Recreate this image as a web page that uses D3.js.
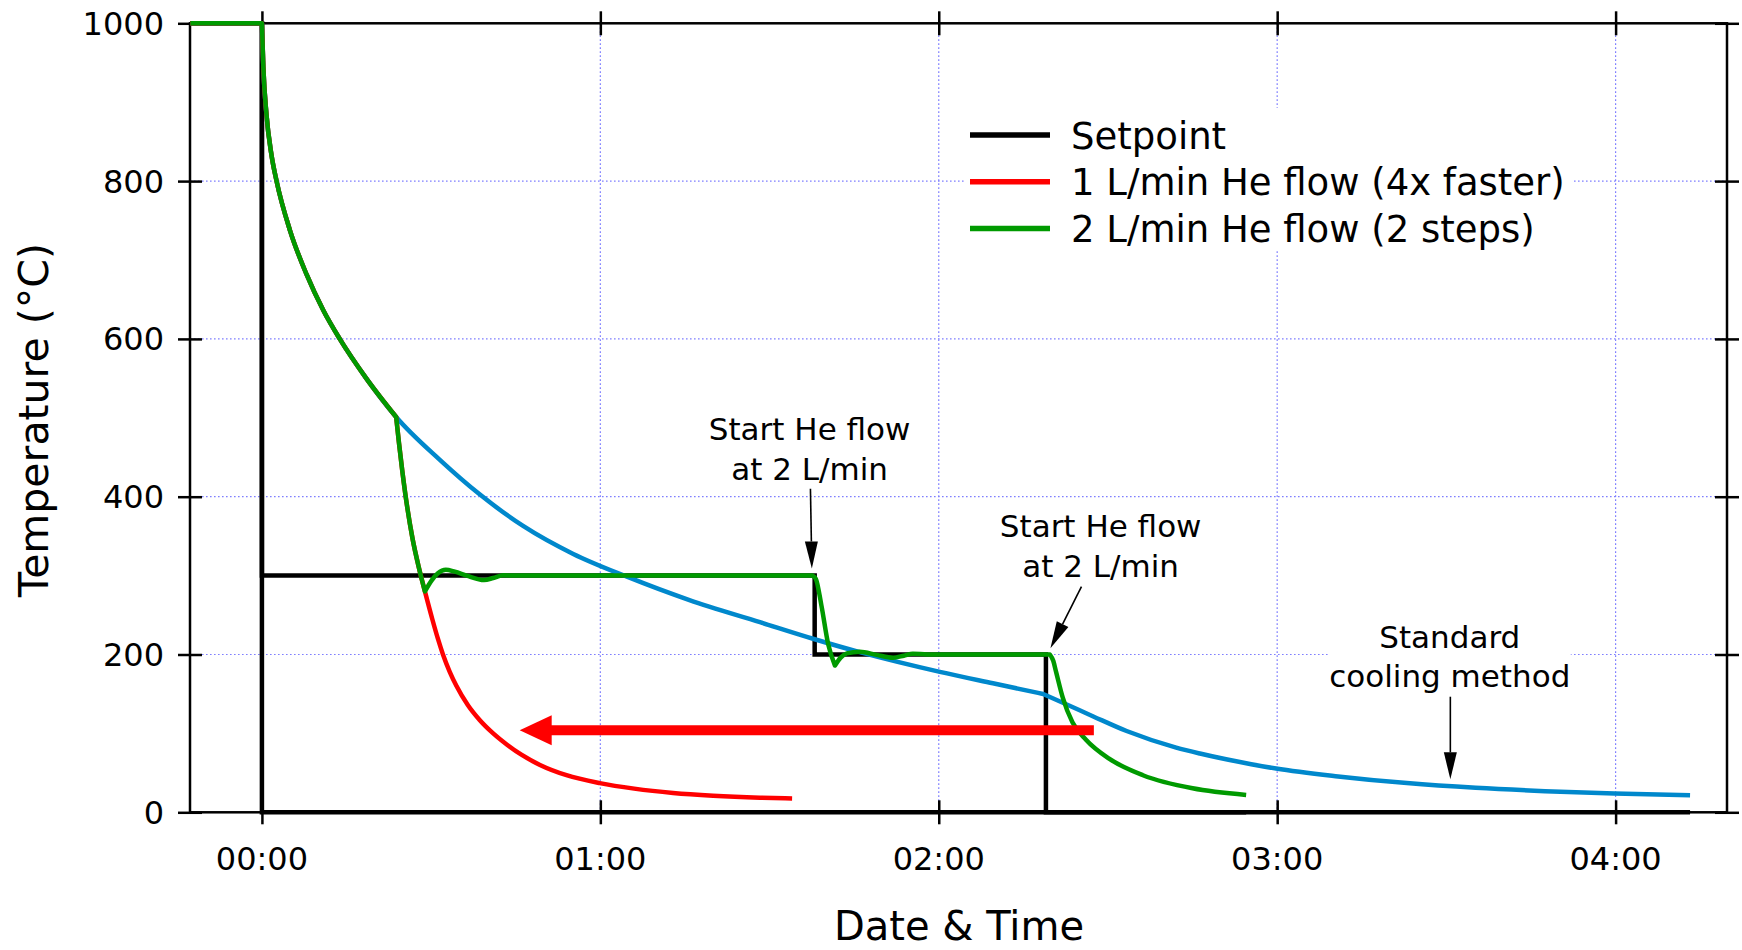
<!DOCTYPE html>
<html>
<head>
<meta charset="utf-8">
<script src="https://cdn.jsdelivr.net/npm/d3@7"></script>
<style>
  html, body { margin: 0; padding: 0; background: #fff; }
  svg { display: block; font-family: "DejaVu Sans", sans-serif; }
</style>
</head>
<body>
<svg id="chart" width="1742" height="950"></svg>
<script>
// ---------------- DATA (time in minutes from 00:00, temperature in °C) ----------------
const xTickValues = [0, 60, 120, 180, 240];
const xTickLabels = ["00:00", "01:00", "02:00", "03:00", "04:00"];
const yTickValues = [0, 200, 400, 600, 800, 1000];
const yTickLabels = ["0", "200", "400", "600", "800", "1000"];

// Standard cooling (blue)
const standardCooling = [
  [-12.7,1000],[0,1000],[0.25,945],[0.8,885],[1.7,833],[2.6,800],[5,737],[7.9,682],[10.9,636],
  [13.8,600],[18.5,550],[23.8,501],[31.5,447],[38.6,403],[46.3,363],[55.2,327.5],[64.6,299],
  [75.8,269],[88.3,241],[97.7,220],[106,203],[120.2,178],[129.6,163.5],[138.5,150],[142.6,137],
  [147.4,121.5],[153.3,103],[162.1,82],[166.3,74.5],[175.4,61],[179.8,55.5],[190.8,45.5],[203,37],
  [215.2,31],[227.5,26.8],[239.8,23.8],[253.2,21.5]
];
const standardCorners = [0, 138.5];

// 1 L/min He flow (red)
const flow1 = [
  [-12.7,1000],[0,1000],[0.25,945],[0.8,885],[1.7,833],[2.6,800],[5,737],[7.9,682],[10.9,636],
  [13.8,600],[18.5,550],[23.8,501],[24.3,468],[24.9,432],[25.8,385],[26.7,347],[27.8,311],
  [28.9,280],[30.2,245],[31.2,220],[32.1,200],[33.3,178],[34.5,160],[36.5,136],[38.6,117],
  [41,100],[43.4,86],[46,73],[49.3,60],[54,47],[59.9,37],[66,30],[72.9,24.5],[80,21],
  [88.3,18.5],[94,17.5]
];
const flow1Corners = [0, 23.8];

// 2 L/min He flow, 2 steps (green)
const flow2 = [
  [-12.7,1000],[0,1000],[0.25,945],[0.8,885],[1.7,833],[2.6,800],[5,737],[7.9,682],[10.9,636],
  [13.8,600],[18.5,550],[23.8,501],[24.3,468],[24.9,432],[25.8,385],[26.7,347],[27.8,311],
  [28.9,280],[30.1,294],[31.2,303],[32.6,307.5],[34.2,305],[36.3,300],[39.4,294.4],[41,297],
  [42.8,300.5],[45,300],[97.6,300],[98.2,296],[99.2,262],[100.4,213],[101.6,186],[102.6,196],
  [103.7,201.5],[106,203.5],[109,199.5],[111.9,196],[113.8,198.5],[115.4,201],[118,200],
  [139.7,200],[140.3,192],[140.8,178],[142,145],[143.7,114],[146.1,92],[150.2,68],[156.2,47],
  [165,30.4],[174.5,22]
];
const flow2Corners = [0, 23.8, 28.9, 97.6, 101.6, 139.7];

// Setpoints (black)
const setpointStandard = [[-12.7,1000],[0,1000],[0,0],[253.2,0]];
const setpointSteps = [[-12.7,1000],[0,1000],[0,300],[98,300],[98,200],[139,200],[139,0],[174.5,0]];

// Legend
const legendLabels = ["Setpoint", "1 L/min He flow (4x faster)", "2 L/min He flow (2 steps)"];
const legendColors = ["#000000", "#ff0000", "#009a00"];

// Annotations (data coordinates)
const annotations = [
  { lines: ["Start He flow", "at 2 L/min"], t: 97.1, T: [472, 421], from: [97.25, 410], to: [97.5, 309], bg: false },
  { lines: ["Start He flow", "at 2 L/min"], t: 148.7, T: [348.5, 298.6], from: [145.3, 286], to: [139.8, 208], bg: false },
  { lines: ["Standard", "cooling method"], t: 210.6, T: [208.6, 158.8], from: [210.7, 146.5], to: [210.7, 41.8], bg: true }
];
// Big red arrow (time saved)
const savingArrow = { from: [147.5, 104], to: [45.7, 104] };

// ---------------- CHART ----------------
const svg = d3.select("#chart");
const L = 190, R = 1727, T0 = 23.3, B = 812.3;
const x = d3.scaleLinear().domain([-12.75, 259.75]).range([L, R]);
const y = d3.scaleLinear().domain([0, 1000]).range([B, T0]);

const gridColor = "#7f7fff";
const grid = svg.append("g");
grid.selectAll("line.hg").data(yTickValues.filter(v => v > 0 && v < 1000)).join("line")
  .attr("x1", L).attr("x2", R).attr("y1", d => y(d)).attr("y2", d => y(d))
  .attr("stroke", gridColor).attr("stroke-width", 1.2).attr("stroke-dasharray", "1.6,2.4");
grid.selectAll("line.vg").data(xTickValues.filter(v => v > 0)).join("line")
  .attr("x1", d => x(d)).attr("x2", d => x(d)).attr("y1", T0).attr("y2", B)
  .attr("stroke", gridColor).attr("stroke-width", 1.2).attr("stroke-dasharray", "1.6,2.4");

function styleAxis(g) {
  g.select(".domain").remove();
  g.selectAll(".tick line").attr("stroke", "#000").attr("stroke-width", 2.5);
  g.selectAll("text").remove();
}
const tickLen = 12;
svg.append("g").attr("transform", `translate(0,${B + tickLen})`)
  .call(d3.axisBottom(x).tickValues(xTickValues).tickSize(-2 * tickLen)).call(styleAxis);
svg.append("g").attr("transform", `translate(0,${T0 + tickLen})`)
  .call(d3.axisBottom(x).tickValues(xTickValues).tickSize(-2 * tickLen)).call(styleAxis);
svg.append("g").attr("transform", `translate(${L - tickLen},0)`)
  .call(d3.axisRight(y).tickValues(yTickValues).tickSize(2 * tickLen)).call(styleAxis);
svg.append("g").attr("transform", `translate(${R - tickLen},0)`)
  .call(d3.axisRight(y).tickValues(yTickValues).tickSize(2 * tickLen)).call(styleAxis);

svg.append("rect").attr("x", L).attr("y", T0).attr("width", R - L).attr("height", B - T0)
  .attr("fill", "none").attr("stroke", "#000").attr("stroke-width", 2.5);

svg.append("g").selectAll("text").data(xTickValues).join("text")
  .attr("x", d => x(d)).attr("y", B + 58).attr("text-anchor", "middle")
  .attr("font-size", 32).text((d, i) => xTickLabels[i]);
svg.append("g").selectAll("text").data(yTickValues).join("text")
  .attr("x", 164).attr("y", d => y(d) + 11.5).attr("text-anchor", "end")
  .attr("font-size", 32).text((d, i) => yTickLabels[i]);

svg.append("text").attr("x", (L + R) / 2 + 0.5).attr("y", 940).attr("text-anchor", "middle")
  .attr("font-size", 40).text("Date & Time");
svg.append("text").attr("transform", "translate(48,420) rotate(-90)").attr("text-anchor", "middle")
  .attr("font-size", 41).text("Temperature (°C)");

// legend
const lg = svg.append("g");
lg.append("rect").attr("x", 964).attr("y", 108).attr("width", 608).attr("height", 142).attr("fill", "#fff");
legendLabels.forEach((lab, i) => {
  const cy = 135 + i * 46.7;
  lg.append("line").attr("x1", 970).attr("x2", 1050).attr("y1", cy).attr("y2", cy)
    .attr("stroke", legendColors[i]).attr("stroke-width", 5.5);
  lg.append("text").attr("x", 1071).attr("y", cy + 13.5).attr("font-size", 37).text(lab);
});

// series
const line = d3.line().x(d => x(d[0])).y(d => y(d[1]));
const smooth = d3.line().x(d => x(d[0])).y(d => y(d[1])).curve(d3.curveMonotoneX);
function segmentedPath(data, corners) {
  const segs = [];
  let cur = [];
  data.forEach(p => {
    cur.push(p);
    if (corners.includes(p[0]) && cur.length > 1) { segs.push(cur); cur = [p]; }
  });
  if (cur.length > 1) segs.push(cur);
  return segs.map((s, i) => { const d = smooth(s); return i === 0 ? d : "L" + d.slice(1); }).join("");
}
const plot = svg.append("g");
[setpointStandard, setpointSteps].forEach(s => {
  plot.append("path").datum(s).attr("d", line).attr("fill", "none")
    .attr("stroke", "#000").attr("stroke-width", 4.5).attr("stroke-linejoin", "miter");
});
plot.append("path").attr("d", segmentedPath(standardCooling, standardCorners)).attr("fill", "none")
  .attr("stroke", "#0088cc").attr("stroke-width", 4.5).attr("stroke-linejoin", "round");
plot.append("path").attr("d", segmentedPath(flow1, flow1Corners)).attr("fill", "none")
  .attr("stroke", "#ff0000").attr("stroke-width", 4.5).attr("stroke-linejoin", "round");
plot.append("path").attr("d", segmentedPath(flow2, flow2Corners)).attr("fill", "none")
  .attr("stroke", "#009a00").attr("stroke-width", 4.5).attr("stroke-linejoin", "round");

// annotations
const ann = svg.append("g");
annotations.forEach(a => {
  const cx = x(a.t);
  if (a.bg) {
    ann.append("rect").attr("x", cx - 121).attr("y", y(a.T[0]) - 26).attr("width", 242)
      .attr("height", y(a.T[1]) - y(a.T[0]) + 36).attr("fill", "#fff");
  }
  a.lines.forEach((txt, i) => {
    ann.append("text").attr("x", cx).attr("y", y(a.T[i])).attr("text-anchor", "middle")
      .attr("font-size", 31).text(txt);
  });
  const x1 = x(a.from[0]), y1 = y(a.from[1]), x2 = x(a.to[0]), y2 = y(a.to[1]);
  const ang = Math.atan2(y2 - y1, x2 - x1);
  const hl = 27, hw = 6.5;
  const bx = x2 - hl * Math.cos(ang), by = y2 - hl * Math.sin(ang);
  ann.append("line").attr("x1", x1).attr("y1", y1).attr("x2", bx).attr("y2", by)
    .attr("stroke", "#000").attr("stroke-width", 1.6);
  const px = -Math.sin(ang) * hw, py = Math.cos(ang) * hw;
  ann.append("path").attr("d", `M${x2},${y2}L${bx + px},${by + py}L${bx - px},${by - py}Z`).attr("fill", "#000");
});

// big red arrow
{
  const x1 = x(savingArrow.from[0]), x2 = x(savingArrow.to[0]), yy = y(savingArrow.from[1]);
  const hl = 32, hw = 15;
  svg.append("line").attr("x1", x1).attr("x2", x2 + hl - 1).attr("y1", yy).attr("y2", yy)
    .attr("stroke", "#ff0000").attr("stroke-width", 10);
  svg.append("path").attr("d", `M${x2},${yy}L${x2 + hl},${yy - hw}L${x2 + hl},${yy + hw}Z`).attr("fill", "#ff0000");
}
</script>
</body>
</html>
